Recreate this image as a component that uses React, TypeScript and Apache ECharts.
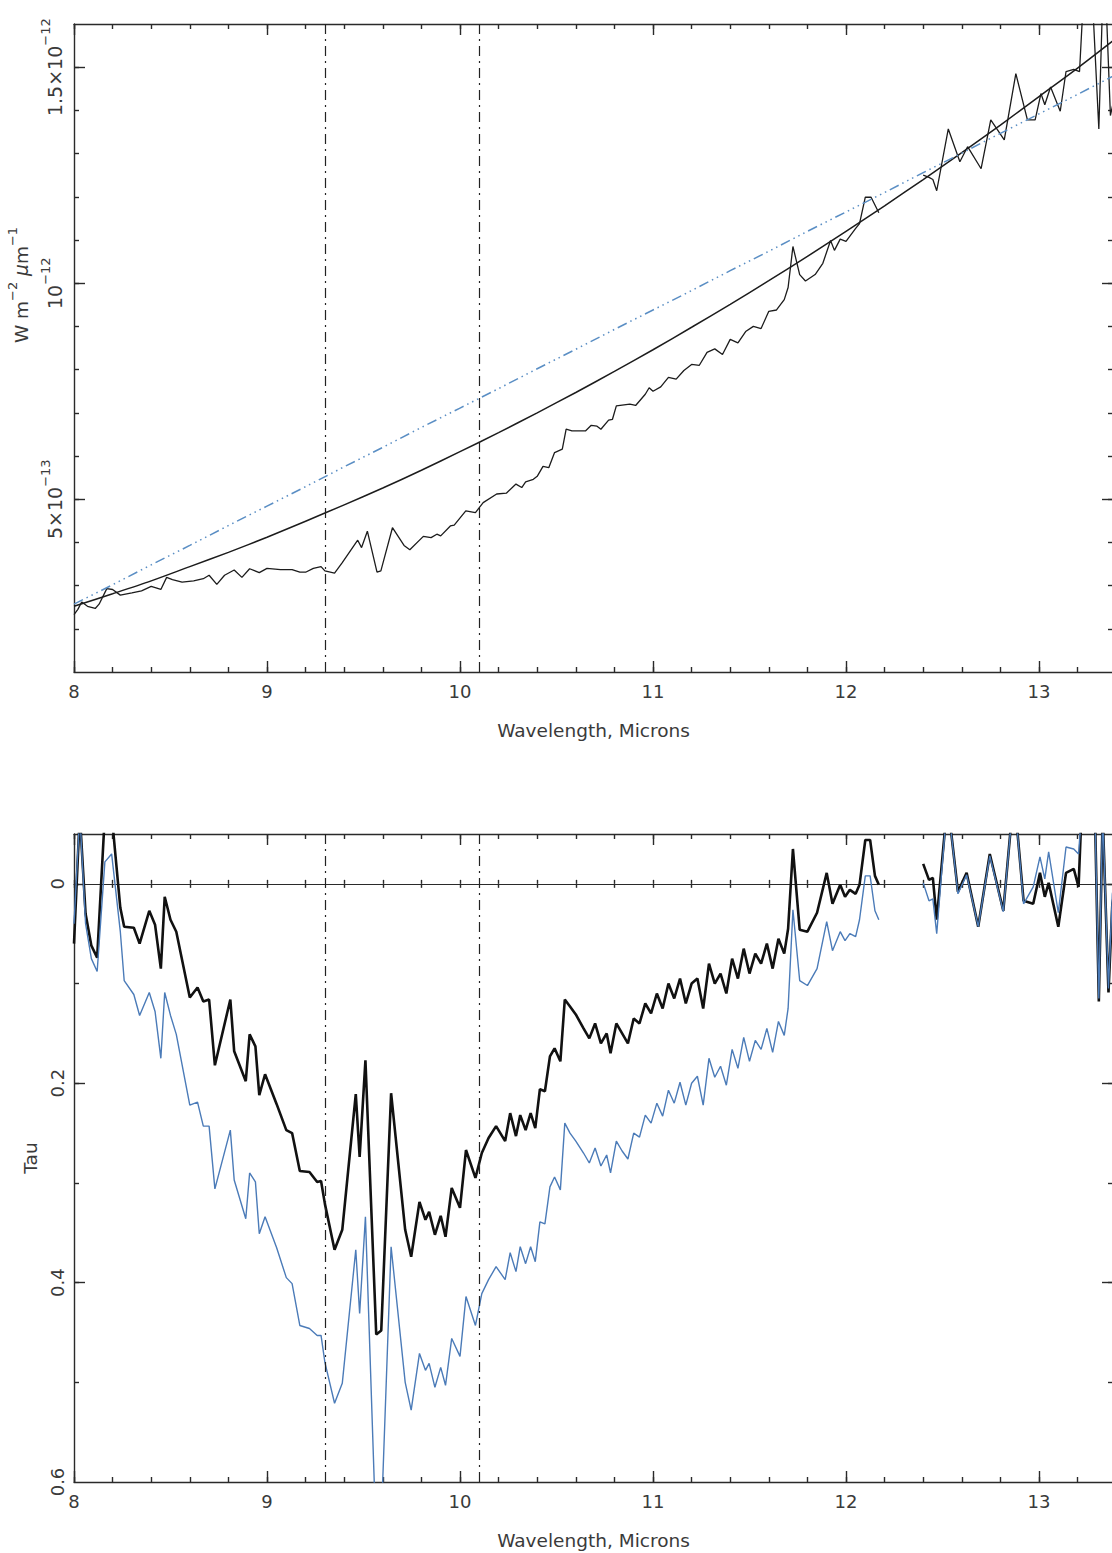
import React, { useEffect, useRef } from 'react';
import * as echarts from 'echarts';

// ---------- axis ticks / labels ----------
const X_MIN = 8;
const X_MAX = 13.3834;
const X_LABELS = [8, 9, 10, 11, 12, 13];
const X_TICKS = [8, 8.2, 8.4, 8.6, 8.8, 9, 9.2, 9.4, 9.6, 9.8, 10, 10.2, 10.4, 10.6, 10.8, 11, 11.2, 11.4, 11.6, 11.8, 12, 12.2, 12.4, 12.6, 12.8, 13, 13.2];
const FLUX_MIN = 1; // units of 1e-13 W m^-2 um^-1
const FLUX_MAX = 16;
const FLUX_LABELS = [5, 10, 15];
const FLUX_TICKS = [2, 3, 4, 5, 6, 7, 8, 9, 10, 11, 12, 13, 14, 15];
const TAU_MIN = -0.05;
const TAU_MAX = 0.6;
const TAU_LABELS = [0, 0.2, 0.4, 0.6];
const TAU_TICKS = [0, 0.1, 0.2, 0.3, 0.4, 0.5];
const TAU_MAJOR = [0, 0.2, 0.4];
const MARK_X = [9.3, 10.1];

// ---------- top panel: observed spectrum (1e-13 W m^-2 um^-1) ----------
const SPEC_X = [8.0, 8.02, 8.04, 8.07, 8.11, 8.13, 8.17, 8.2, 8.24, 8.3, 8.35, 8.4, 8.45, 8.48, 8.51, 8.56, 8.62, 8.67, 8.7, 8.74, 8.78, 8.83, 8.87, 8.91, 8.96, 9.0, 9.07, 9.13, 9.17, 9.2, 9.24, 9.28, 9.3, 9.35, 9.39, 9.47, 9.49, 9.52, 9.57, 9.59, 9.65, 9.71, 9.74, 9.81, 9.85, 9.88, 9.9, 9.95, 9.97, 10.03, 10.08, 10.12, 10.19, 10.24, 10.29, 10.32, 10.34, 10.38, 10.4, 10.43, 10.46, 10.49, 10.53, 10.55, 10.58, 10.65, 10.68, 10.71, 10.73, 10.77, 10.79, 10.81, 10.88, 10.91, 10.96, 10.98, 11.0, 11.04, 11.08, 11.12, 11.16, 11.2, 11.24, 11.28, 11.32, 11.36, 11.4, 11.44, 11.48, 11.52, 11.56, 11.6, 11.64, 11.68, 11.7, 11.725, 11.76, 11.79, 11.84, 11.88, 11.92, 11.94, 11.97, 12.0, 12.05, 12.07, 12.1, 12.13, 12.17, 12.28, 12.4, 12.43, 12.45, 12.47, 12.53, 12.59, 12.63, 12.7, 12.75, 12.82, 12.88, 12.94, 12.98, 13.01, 13.03, 13.06, 13.11, 13.14, 13.18, 13.21, 13.23, 13.26, 13.28, 13.31, 13.33, 13.35, 13.37, 13.4];
const SPEC_F = [2.33, 2.45, 2.62, 2.52, 2.47, 2.57, 2.93, 2.91, 2.78, 2.83, 2.88, 2.98, 2.91, 3.19, 3.14, 3.08, 3.11, 3.16, 3.24, 3.03, 3.24, 3.36, 3.19, 3.39, 3.3, 3.4, 3.37, 3.37, 3.31, 3.31, 3.4, 3.44, 3.34, 3.29, 3.53, 4.05, 3.88, 4.26, 3.31, 3.34, 4.34, 3.93, 3.83, 4.14, 4.11, 4.19, 4.15, 4.38, 4.4, 4.73, 4.69, 4.92, 5.12, 5.14, 5.35, 5.27, 5.4, 5.46, 5.53, 5.76, 5.73, 6.08, 6.16, 6.62, 6.58, 6.58, 6.71, 6.69, 6.62, 6.83, 6.85, 7.16, 7.2, 7.17, 7.43, 7.58, 7.5, 7.6, 7.82, 7.78, 7.98, 8.12, 8.1, 8.4, 8.48, 8.35, 8.7, 8.62, 8.88, 9.0, 8.95, 9.35, 9.38, 9.62, 9.9, 10.85, 10.2, 10.05, 10.2, 10.46, 10.99, 10.76, 11.02, 10.97, 11.27, 11.38, 11.99, 11.99, 11.63, null, 12.5, 12.45, 12.4, 12.14, 13.57, 12.81, 13.16, 12.65, 13.78, 13.32, 14.85, 13.78, 13.78, 14.39, 14.13, 14.54, 13.98, 14.9, 14.95, 14.9, 16.6, 16.6, 16.3, 13.57, 16.6, 16.2, 13.88, 14.5];

// ---------- top panel: continua ----------
const CONT_X = [8.0, 8.2, 8.4, 8.6, 8.8, 9.0, 9.2, 9.4, 9.6, 9.8, 10.0, 10.2, 10.4, 10.6, 10.8, 11.0, 11.2, 11.4, 11.6, 11.8, 12.0, 12.2, 12.4, 12.6, 12.8, 13.0, 13.2, 13.4];
const CONT_BLACK = [2.52, 2.81, 3.11, 3.44, 3.77, 4.12, 4.49, 4.87, 5.26, 5.67, 6.1, 6.54, 7.0, 7.47, 7.96, 8.46, 8.98, 9.51, 10.06, 10.62, 11.2, 11.79, 12.4, 13.02, 13.66, 14.32, 14.98, 15.67];
const CONT_BLUE = [2.57, 3.02, 3.48, 3.93, 4.39, 4.84, 5.29, 5.75, 6.2, 6.66, 7.11, 7.56, 8.02, 8.47, 8.93, 9.38, 9.83, 10.29, 10.74, 11.2, 11.65, 12.1, 12.56, 13.01, 13.47, 13.92, 14.37, 14.83];

// ---------- bottom panel: optical depth ----------
const TAU_X = [8.0, 8.03, 8.06, 8.09, 8.12, 8.16, 8.195, 8.24, 8.26, 8.31, 8.34, 8.39, 8.42, 8.45, 8.47, 8.5, 8.53, 8.6, 8.64, 8.67, 8.7, 8.73, 8.81, 8.83, 8.89, 8.91, 8.94, 8.96, 8.99, 9.05, 9.1, 9.13, 9.17, 9.22, 9.26, 9.28, 9.3, 9.35, 9.39, 9.46, 9.48, 9.51, 9.566, 9.592, 9.643, 9.716, 9.747, 9.79, 9.821, 9.84, 9.87, 9.9, 9.925, 9.957, 10.0, 10.031, 10.08, 10.113, 10.148, 10.187, 10.234, 10.26, 10.29, 10.312, 10.34, 10.366, 10.39, 10.414, 10.44, 10.466, 10.49, 10.52, 10.543, 10.57, 10.6, 10.64, 10.67, 10.7, 10.73, 10.76, 10.78, 10.81, 10.84, 10.87, 10.9, 10.93, 10.96, 10.99, 11.02, 11.05, 11.08, 11.11, 11.14, 11.17, 11.2, 11.23, 11.26, 11.29, 11.32, 11.35, 11.38, 11.41, 11.44, 11.47, 11.5, 11.53, 11.56, 11.59, 11.62, 11.65, 11.68, 11.7, 11.725, 11.76, 11.8, 11.85, 11.9, 11.93, 11.97, 11.995, 12.02, 12.05, 12.07, 12.1, 12.125, 12.15, 12.17, 12.28, 12.4, 12.43, 12.45, 12.47, 12.52, 12.54, 12.58, 12.625, 12.685, 12.745, 12.815, 12.86, 12.88, 12.92, 12.97, 13.005, 13.03, 13.05, 13.1, 13.14, 13.18, 13.205, 13.22, 13.29, 13.31, 13.33, 13.36, 13.38, 13.4];
const TAU_BLACK = [0.06, -0.07, 0.03, 0.062, 0.074, -0.07, -0.07, 0.024, 0.043, 0.044, 0.06, 0.027, 0.041, 0.085, 0.013, 0.036, 0.048, 0.114, 0.104, 0.118, 0.116, 0.182, 0.116, 0.168, 0.198, 0.151, 0.163, 0.212, 0.191, 0.221, 0.247, 0.25, 0.288, 0.289, 0.299, 0.298, 0.321, 0.367, 0.347, 0.211, 0.274, 0.177, 0.452, 0.448, 0.21, 0.347, 0.374, 0.319, 0.337, 0.329, 0.352, 0.333, 0.354, 0.305, 0.325, 0.267, 0.295, 0.27, 0.255, 0.243, 0.258, 0.23, 0.253, 0.232, 0.247, 0.23, 0.245, 0.206, 0.208, 0.173, 0.165, 0.178, 0.116, 0.123, 0.131, 0.145, 0.155, 0.14, 0.16, 0.15, 0.17, 0.14, 0.15, 0.16, 0.135, 0.14, 0.12, 0.13, 0.11, 0.125, 0.1, 0.115, 0.095, 0.12, 0.1, 0.095, 0.125, 0.08, 0.1, 0.09, 0.11, 0.075, 0.095, 0.065, 0.09, 0.07, 0.08, 0.06, 0.085, 0.055, 0.07, 0.045, -0.035, 0.046, 0.048, 0.029, -0.011, 0.02, 0.001, 0.013, 0.006, 0.01, 0.001, -0.044, -0.044, -0.008, 0.001, null, -0.02, -0.004, -0.006, 0.036, -0.07, -0.06, 0.008, -0.011, 0.043, -0.03, 0.027, -0.07, -0.07, 0.017, 0.02, -0.011, 0.013, -0.001, 0.043, -0.011, -0.015, 0.003, -0.07, -0.07, 0.118, -0.07, 0.109, 0.02, 0.0];
const TAU_BLUE = [0.04, -0.07, 0.04, 0.075, 0.088, -0.022, -0.03, 0.048, 0.097, 0.111, 0.132, 0.109, 0.128, 0.175, 0.109, 0.132, 0.151, 0.222, 0.219, 0.243, 0.243, 0.306, 0.247, 0.297, 0.336, 0.29, 0.299, 0.351, 0.334, 0.365, 0.395, 0.401, 0.443, 0.446, 0.453, 0.453, 0.48, 0.521, 0.501, 0.367, 0.431, 0.334, 0.66, 0.64, 0.364, 0.5, 0.528, 0.471, 0.488, 0.481, 0.505, 0.485, 0.503, 0.456, 0.474, 0.414, 0.443, 0.411, 0.397, 0.384, 0.397, 0.37, 0.389, 0.364, 0.381, 0.364, 0.379, 0.339, 0.341, 0.304, 0.294, 0.307, 0.24, 0.25, 0.258, 0.27, 0.28, 0.265, 0.283, 0.272, 0.29, 0.258, 0.268, 0.276, 0.25, 0.254, 0.232, 0.24, 0.22, 0.233, 0.207, 0.22, 0.199, 0.222, 0.2, 0.193, 0.222, 0.175, 0.194, 0.183, 0.202, 0.166, 0.185, 0.154, 0.178, 0.157, 0.166, 0.145, 0.169, 0.138, 0.152, 0.125, 0.026, 0.097, 0.102, 0.085, 0.038, 0.067, 0.048, 0.057, 0.05, 0.053, 0.036, -0.008, -0.008, 0.027, 0.036, null, -0.001, 0.017, 0.015, 0.05, -0.07, -0.06, 0.01, -0.009, 0.043, -0.028, 0.028, -0.07, -0.07, 0.02, 0.003, -0.027, -0.005, -0.032, 0.029, -0.037, -0.035, -0.03, -0.07, -0.07, 0.115, -0.07, 0.105, 0.01, -0.01];

const FONT = 'DejaVu Sans';
const AXIS_COLOR = '#2a2a2a';
const TEXT_COLOR = '#3a3a3a';
const BLUE = '#4b7bb8';
const BLUE_DASH = '#5a8ec4';

const pairs = (xs: number[], ys: (number | null)[]) => xs.map((x, i) => [x, ys[i] === null ? null : ys[i]]);

const close = (a: number, b: number) => Math.abs(a - b) < 1e-9;

function fluxLabel(v: number) {
  if (close(v, 5)) return '{n|5×10}{s|−13}';
  if (close(v, 10)) return '{n|10}{s|−12}';
  if (close(v, 15)) return '{n|1.5×10}{s|−12}';
  return '';
}

function tauLabel(v: number) {
  if (close(v, 0)) return '0';
  if (close(v, 0.2)) return '0.2';
  if (close(v, 0.4)) return '0.4';
  if (close(v, 0.6)) return '0.6';
  return '';
}

const richSup = {
  n: { fontSize: 19, fontFamily: FONT, color: TEXT_COLOR },
  s: { fontSize: 13, fontFamily: FONT, color: TEXT_COLOR, padding: [0, 0, 19, 0] },
};

const line = { lineStyle: { color: AXIS_COLOR, width: 1.4 } };

function makeXAxes(gridIndex: number, withZero: boolean, zeroY: number) {
  const base = { type: 'value', gridIndex, min: X_MIN, max: X_MAX, splitLine: { show: false } };
  const list: any[] = [
    {
      ...base,
      position: 'bottom',
      axisLine: { show: true, onZero: false, ...line },
      axisTick: { show: true, inside: true, length: 5, customValues: X_TICKS, ...line },
      axisLabel: {
        show: true,
        customValues: X_LABELS,
        formatter: (v: number) => String(Math.round(v)),
        fontSize: 18,
        fontFamily: FONT,
        color: TEXT_COLOR,
        margin: 10,
      },
      name: 'Wavelength, Microns',
      nameLocation: 'middle',
      nameGap: 49,
      nameTextStyle: { fontSize: 18.5, fontFamily: FONT, color: TEXT_COLOR },
    },
    {
      ...base,
      position: 'bottom',
      axisLine: { show: false, onZero: false },
      axisTick: { show: true, inside: true, length: 11, customValues: X_LABELS, ...line },
      axisLabel: { show: false },
    },
    {
      ...base,
      position: 'top',
      axisLine: { show: true, onZero: false, ...line },
      axisTick: { show: true, inside: true, length: 5, customValues: X_TICKS, ...line },
      axisLabel: { show: false },
    },
    {
      ...base,
      position: 'top',
      axisLine: { show: false, onZero: false },
      axisTick: { show: true, inside: true, length: 11, customValues: X_LABELS, ...line },
      axisLabel: { show: false },
    },
  ];
  if (withZero) {
    list.push(
      {
        ...base,
        position: 'bottom',
        axisLine: { show: true, onZero: true, onZeroAxisIndex: zeroY, lineStyle: { color: AXIS_COLOR, width: 1.2 } },
        axisTick: { show: true, inside: true, length: 4, customValues: X_TICKS, ...line },
        axisLabel: { show: false },
      },
      {
        ...base,
        position: 'bottom',
        axisLine: { show: false, onZero: true, onZeroAxisIndex: zeroY },
        axisTick: { show: true, inside: false, length: 4, customValues: X_TICKS, ...line },
        axisLabel: { show: false },
      }
    );
  }
  return list;
}

function makeYAxes(gridIndex: number, opts: any) {
  const base = {
    type: 'value',
    gridIndex,
    min: opts.min,
    max: opts.max,
    inverse: !!opts.inverse,
    splitLine: { show: false },
  };
  return [
    {
      ...base,
      position: 'left',
      axisLine: { show: true, onZero: false, ...line },
      axisTick: { show: true, inside: true, length: 5, customValues: opts.ticks, ...line },
      axisLabel: {
        show: true,
        customValues: opts.labels,
        formatter: opts.formatter,
        rotate: 90,
        margin: opts.labelMargin,
        fontSize: 18,
        fontFamily: FONT,
        color: TEXT_COLOR,
        rich: richSup,
      },
      name: opts.name,
      nameLocation: 'middle',
      nameRotate: 90,
      nameGap: opts.nameGap,
      nameTextStyle: {
        fontSize: 18.5,
        fontFamily: FONT,
        color: TEXT_COLOR,
        padding: opts.namePadding,
        rich: {
          s: { fontSize: 13, fontFamily: FONT, color: TEXT_COLOR, padding: [0, 0, 18, 0] },
          mu: { fontSize: 18.5, fontFamily: FONT, color: TEXT_COLOR, fontStyle: 'italic' },
        },
      },
    },
    {
      ...base,
      position: 'left',
      axisLine: { show: false, onZero: false },
      axisTick: { show: true, inside: true, length: 11, customValues: opts.major, ...line },
      axisLabel: { show: false },
    },
    {
      ...base,
      position: 'right',
      axisLine: { show: true, onZero: false, ...line },
      axisTick: { show: true, inside: true, length: 5, customValues: opts.ticks, ...line },
      axisLabel: { show: false },
    },
    {
      ...base,
      position: 'right',
      axisLine: { show: false, onZero: false },
      axisTick: { show: true, inside: true, length: 11, customValues: opts.major, ...line },
      axisLabel: { show: false },
    },
  ];
}

const markLines = {
  silent: true,
  symbol: ['none', 'none'],
  label: { show: false },
  lineStyle: { color: '#222', width: 1.2, type: [10, 5, 2, 5] },
  data: MARK_X.map((x) => ({ xAxis: x })),
};

export default function App() {
  const ref = useRef<HTMLDivElement>(null);

  useEffect(() => {
    if (!ref.current) return;
    const chart = echarts.init(ref.current, undefined, { renderer: 'svg' });
    const xAxis = [...makeXAxes(0, false, 0), ...makeXAxes(1, true, 4)];
    const yAxis = [
      ...makeYAxes(0, {
        min: FLUX_MIN,
        max: FLUX_MAX,
        ticks: FLUX_TICKS,
        labels: FLUX_LABELS,
        major: FLUX_LABELS,
        formatter: fluxLabel,
        labelMargin: 3,
        name: 'W m{s|−2} {mu|μ}m{s|−1}',
        nameGap: 25,
        namePadding: [0, 0, 0, 126],
      }),
      ...makeYAxes(1, {
        min: TAU_MIN,
        max: TAU_MAX,
        inverse: true,
        ticks: TAU_TICKS,
        labels: TAU_LABELS,
        major: TAU_MAJOR,
        formatter: tauLabel,
        labelMargin: 8,
        name: 'Tau',
        nameGap: 30,
        namePadding: [0, 0, 0, 0],
      }),
    ];

    chart.setOption({
      animation: false,
      backgroundColor: '#ffffff',
      grid: [
        { left: 74, top: 24, width: 1039, height: 648, containLabel: false, outerBoundsMode: 'none' },
        { left: 74, top: 834, width: 1039, height: 648, containLabel: false, outerBoundsMode: 'none' },
      ],
      xAxis,
      yAxis,
      series: [
        {
          name: 'spectrum',
          type: 'line',
          xAxisIndex: 0,
          yAxisIndex: 0,
          data: pairs(SPEC_X, SPEC_F),
          showSymbol: false,
          connectNulls: false,
          lineStyle: { color: '#1c1c1c', width: 1.3 },
          markLine: markLines,
          z: 3,
        },
        {
          name: 'continuum',
          type: 'line',
          xAxisIndex: 0,
          yAxisIndex: 0,
          data: pairs(CONT_X, CONT_BLACK),
          showSymbol: false,
          smooth: 0.3,
          lineStyle: { color: '#1c1c1c', width: 1.5 },
          z: 3,
        },
        {
          name: 'linear continuum',
          type: 'line',
          xAxisIndex: 0,
          yAxisIndex: 0,
          data: pairs(CONT_X, CONT_BLUE),
          showSymbol: false,
          lineStyle: { color: BLUE_DASH, width: 1.5, type: [10, 4, 1.5, 4, 1.5, 4, 1.5, 4] },
          z: 4,
        },
        {
          name: 'tau (curved continuum)',
          type: 'line',
          xAxisIndex: 4,
          yAxisIndex: 4,
          data: pairs(TAU_X, TAU_BLACK),
          showSymbol: false,
          connectNulls: false,
          lineStyle: { color: '#111', width: 2.6 },
          markLine: markLines,
          z: 3,
        },
        {
          name: 'tau (linear continuum)',
          type: 'line',
          xAxisIndex: 4,
          yAxisIndex: 4,
          data: pairs(TAU_X, TAU_BLUE),
          showSymbol: false,
          connectNulls: false,
          lineStyle: { color: BLUE, width: 1.4 },
          z: 4,
        },
      ],
    });
    return () => chart.dispose();
  }, []);

  return (
    <div
      style={{
        position: 'absolute',
        left: 0,
        top: 0,
        width: 1112,
        height: 1553,
        overflow: 'hidden',
        background: '#fff',
      }}
    >
      <div ref={ref} style={{ width: 1130, height: 1553 }} />
    </div>
  );
}
